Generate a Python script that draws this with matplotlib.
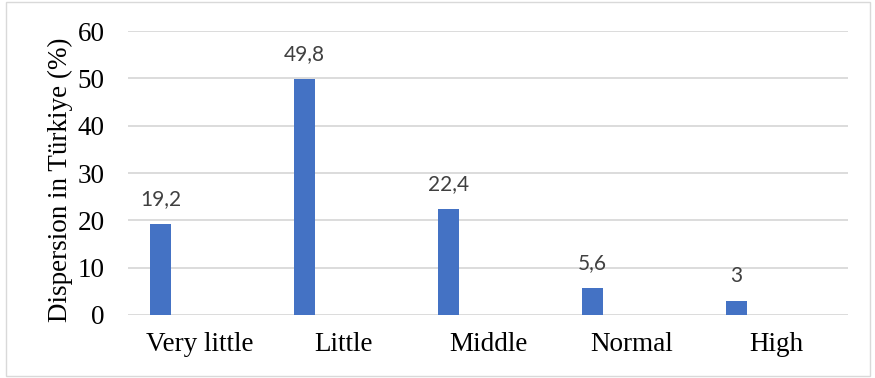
import matplotlib.pyplot as plt
from matplotlib.patches import Rectangle
import numpy as np

categories = ["Very little", "Little", "Middle", "Normal", "High"]
values = [19.2, 49.8, 22.4, 5.6, 3]
y_ticks = [0, 10, 20, 30, 40, 50, 60]

fig = plt.figure(figsize=(8.75, 3.78), dpi=100)
ax = fig.add_axes([128 / 875, 1 - 315 / 378, 720 / 875, 284 / 378])

x = np.arange(len(categories))
# bars sit left of the category centre, as in a clustered layout
bars = ax.bar(x - 0.275, values, width=0.145, color="#4472C4", zorder=3)

for b, v in zip(bars, values):
    label = f"{v:g}".replace(".", ",")
    ax.annotate(label, (b.get_x() + b.get_width() / 2, v), xytext=(0, 11),
                textcoords="offset points", ha="center", va="bottom",
                fontsize=15, color="#404040", family="Lato")

ax.set_xlim(-0.5, len(categories) - 0.5)
ax.set_ylim(0, 60)
ax.set_yticks(y_ticks)
ax.set_xticks(x)
ax.set_xticklabels(categories, family="Liberation Serif", fontsize=19.5)
ax.set_yticklabels([str(t) for t in y_ticks], family="Liberation Serif", fontsize=19.5)
ax.tick_params(axis="both", length=0)
ax.tick_params(axis="x", pad=12)
ax.tick_params(axis="y", pad=17)
ax.grid(axis="y", color="#D9D9D9", linewidth=1.3, zorder=0)
for s in ax.spines.values():
    s.set_visible(False)

ax.set_ylabel("Dispersion in Türkiye (%)", family="Liberation Serif", fontsize=19.5)
ax.yaxis.set_label_coords(-0.077, 0.475)

# thin frame round the whole chart
fig.patches.append(Rectangle((6 / 875, 2 / 378), 864 / 875, 374 / 378,
                             transform=fig.transFigure, fill=False,
                             edgecolor="#D9D9D9", linewidth=1))

fig.savefig("out.png", dpi=100)
